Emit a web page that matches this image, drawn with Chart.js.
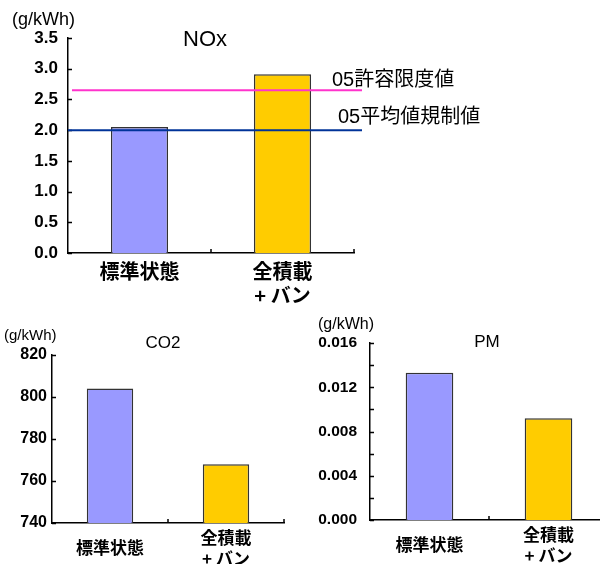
<!DOCTYPE html>
<html>
<head>
<meta charset="utf-8">
<script src="https://cdn.jsdelivr.net/npm/chart.js@4/dist/chart.umd.min.js"></script>
<style>
  html, body { margin: 0; padding: 0; background: #fff; }
  body { width: 600px; height: 564px; overflow: hidden; position: relative; }
  canvas { position: absolute; }
</style>
</head>
<body>
<canvas id="nox" style="left:0;top:0"></canvas>
<canvas id="co2" style="left:0;top:300px"></canvas>
<canvas id="pm" style="left:300px;top:300px"></canvas>
<script>
// Categories shared by all three panels
const categories = ['標準状態', ['全積載', '+ バン']];

// Emission values (g/kWh)
const noxValues = [2.05, 2.91];
const co2Values = [804, 768];
const pmValues = [0.0133, 0.0092];

// 2005 NOx regulation levels
const limitLabels = ['05許容限度値', '05平均値規制値'];
const limitValues = [2.65, 2.0];

// Axis ranges
const noxRange = { min: 0, max: 3.5, step: 0.5, labelEvery: 1, digits: 1 };
const co2Range = { min: 740, max: 820, step: 10, labelEvery: 2, digits: 0 };
const pmRange = { min: 0, max: 0.016, step: 0.002, labelEvery: 2, digits: 3 };

const barColors = ['#9999ff', '#ffcc00'];
const LATIN = "'Liberation Sans', 'Noto Sans CJK JP', sans-serif";
const CJK = "'Noto Sans CJK JP', 'Liberation Sans', sans-serif";

// Inward tick marks on both axes, drawn from the scales
const tickMarks = {
  id: 'tickMarks',
  afterDatasetsDraw(chart, args, opts) {
    const { ctx } = chart;
    const y = chart.scales.y, x = chart.scales.x;
    const area = chart.chartArea;
    ctx.save();
    ctx.strokeStyle = '#000';
    ctx.lineWidth = 1.5;
    ctx.beginPath();
    y.ticks.forEach(t => {
      const py = Math.round(y.getPixelForValue(t.value)) + 0.5;
      ctx.moveTo(area.left, py);
      ctx.lineTo(area.left + 4, py);
    });
    const n = chart.data.labels.length;
    const half = (x.getPixelForValue(1) - x.getPixelForValue(0)) / 2;
    for (let i = 0; i < n; i++) {
      const px = Math.round(x.getPixelForValue(i) + half);
      ctx.moveTo(px, area.bottom);
      ctx.lineTo(px, area.bottom - 4);
    }
    ctx.stroke();
    ctx.restore();
  }
};

// Free text (units, titles) and regulation lines
const extras = {
  id: 'extras',
  afterDatasetsDraw(chart, args, opts) {
    const { ctx } = chart;
    ctx.save();
    (opts.lines || []).forEach(l => {
      const py = chart.scales.y.getPixelForValue(l.value);
      ctx.strokeStyle = l.color;
      ctx.lineWidth = 2;
      ctx.beginPath();
      ctx.moveTo(l.x1, py);
      ctx.lineTo(l.x2, py);
      ctx.stroke();
      ctx.fillStyle = '#000';
      ctx.font = '20px ' + LATIN;
      ctx.textAlign = 'left';
      ctx.textBaseline = 'middle';
      ctx.fillText(l.label, l.lx, py + l.dy);
    });
    (opts.texts || []).forEach(t => {
      ctx.fillStyle = '#000';
      ctx.font = t.font;
      ctx.textAlign = t.align;
      ctx.textBaseline = 'middle';
      ctx.fillText(t.text, t.x, t.y);
    });
    ctx.restore();
  }
};

function makeChart(id, g, values, range, o) {
  const cv = document.getElementById(id);
  cv.width = g.w; cv.height = g.h;
  return new Chart(cv, {
    type: 'bar',
    data: {
      labels: categories,
      datasets: [{
        data: values,
        backgroundColor: barColors,
        borderColor: '#333',
        borderWidth: 1.5,
        barPercentage: 0.4,
        categoryPercentage: 1
      }]
    },
    options: {
      responsive: false,
      animation: false,
      events: [],
      layout: { padding: { left: g.left - g.yw, right: g.w - g.right, top: g.top, bottom: 0 } },
      plugins: {
        legend: { display: false },
        tooltip: { enabled: false },
        extras: { texts: o.texts, lines: o.lines }
      },
      scales: {
        x: {
          offset: true,
          grid: { display: false, drawTicks: false },
          border: { display: true, color: '#000', width: 1.5 },
          ticks: {
            color: '#000',
            padding: o.xPad,
            crossAlign: o.crossAlign,
            maxRotation: 0,
            autoSkip: false,
            font: { family: CJK, size: o.xFont, weight: 'bold', lineHeight: o.xLine }
          },
          afterFit(s) { s.height = g.h - g.bottom; }
        },
        y: {
          min: range.min,
          max: range.max,
          grid: { display: false, drawTicks: false },
          border: { display: true, color: '#000', width: 1.5 },
          ticks: {
            stepSize: range.step,
            color: '#000',
            padding: o.yPad,
            font: { family: LATIN, size: o.yFont, weight: 'bold' },
            callback(v) {
              const k = Math.round((v - range.min) / range.step);
              return k % range.labelEvery === 0 ? Number(v).toFixed(range.digits) : '';
            }
          },
          afterFit(s) { s.width = g.yw; }
        }
      }
    },
    plugins: [tickMarks, extras]
  });
}

makeChart('nox',
  { w: 600, h: 305, left: 68, right: 354, top: 38, bottom: 253, yw: 60 },
  noxValues, noxRange,
  {
    xPad: 6, crossAlign: 'near', xFont: 20, xLine: 1.2, yPad: 10, yFont: 17,
    texts: [
      { text: '(g/kWh)', x: 12, y: 20, font: '18px ' + LATIN, align: 'left' },
      { text: 'NOx', x: 205, y: 40, font: '22px ' + LATIN, align: 'center' }
    ],
    lines: [
      { label: limitLabels[0], value: limitValues[0], color: '#ff33cc', x1: 72, x2: 362, lx: 332, dy: -10 },
      { label: limitLabels[1], value: limitValues[1], color: '#003399', x1: 68, x2: 362, lx: 338, dy: -13 }
    ]
  });

makeChart('co2',
  { w: 300, h: 264, left: 52, right: 284, top: 55, bottom: 223, yw: 50 },
  co2Values, co2Range,
  {
    xPad: 15, crossAlign: 'center', xFont: 17, xLine: 1.18, yPad: 5, yFont: 16,
    texts: [
      { text: '(g/kWh)', x: 4, y: 36, font: '15px ' + LATIN, align: 'left' },
      { text: 'CO2', x: 163, y: 43, font: '17px ' + LATIN, align: 'center' }
    ]
  });

makeChart('pm',
  { w: 320, h: 264, left: 70, right: 308, top: 43, bottom: 220, yw: 66 },
  pmValues, pmRange,
  {
    xPad: 15, crossAlign: 'center', xFont: 17, xLine: 1.18, yPad: 13, yFont: 15.5,
    texts: [
      { text: '(g/kWh)', x: 18, y: 25, font: '16px ' + LATIN, align: 'left' },
      { text: 'PM', x: 187, y: 42, font: '17px ' + LATIN, align: 'center' }
    ]
  });
</script>
</body>
</html>
